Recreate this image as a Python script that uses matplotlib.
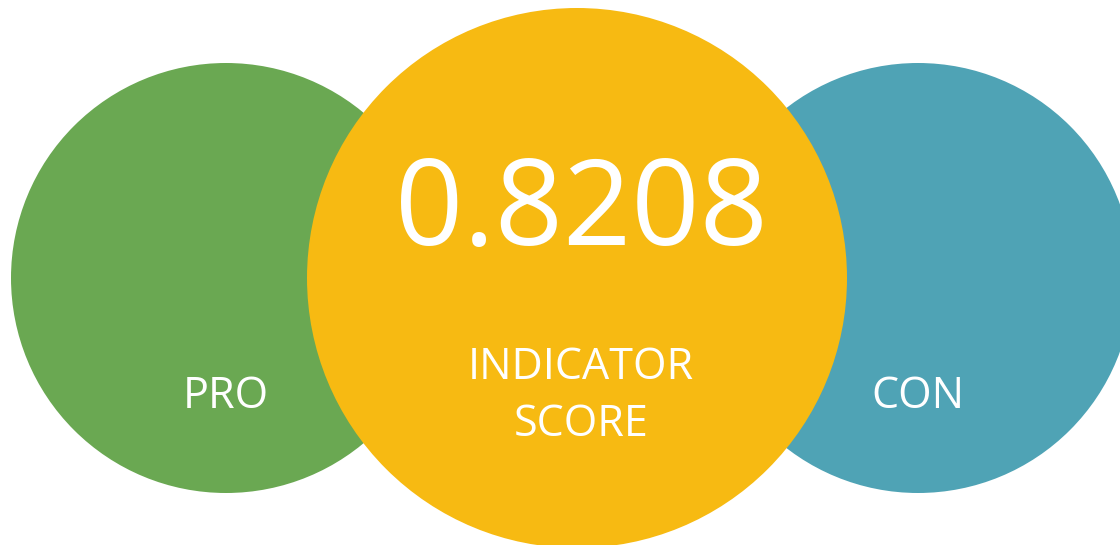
import matplotlib
matplotlib.use("Agg")
import matplotlib.pyplot as plt
from matplotlib.patches import Circle

# Data
score = 0.8208
labels = ["PRO", "INDICATOR\nSCORE", "CON"]
colors = ["#6AA852", "#F7BA12", "#4FA3B5"]

W, H = 1120, 545
fig = plt.figure(figsize=(W / 100, H / 100), dpi=100)
ax = fig.add_axes([0, 0, 1, 1])
ax.set_xlim(0, W)
ax.set_ylim(H, 0)
ax.set_aspect("equal")
ax.axis("off")

font = "Open Sans"

# side circles
ax.add_patch(Circle((226, 278), 215, color=colors[0], zorder=1, lw=0))
ax.add_patch(Circle((918, 278), 215, color=colors[2], zorder=1, lw=0))
# center circle
ax.add_patch(Circle((577, 278), 270, color=colors[1], zorder=2, lw=0))

ax.text(581, 214, f"{score:.4f}", color="white", fontsize=86, family=font,
        ha="center", va="center", zorder=3)
ax.text(581, 396, labels[1], color="white", fontsize=31, family=font,
        ha="center", va="center", linespacing=1.36, zorder=3)
ax.text(226, 397, labels[0], color="white", fontsize=31, family=font,
        ha="center", va="center", zorder=3)
ax.text(918, 397, labels[2], color="white", fontsize=31, family=font,
        ha="center", va="center", zorder=3)

fig.savefig("out.png", dpi=100, facecolor="white")
